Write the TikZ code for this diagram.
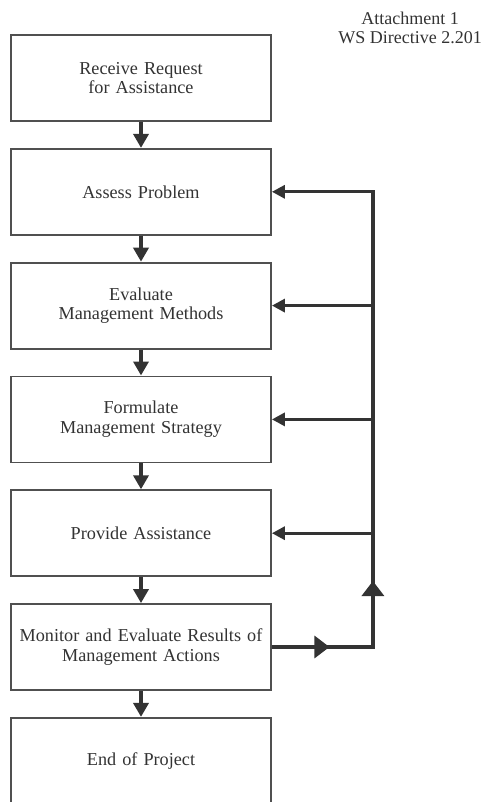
\documentclass[tikz,border=0pt]{standalone}
\usepackage{fontspec}
\setmainfont{Liberation Serif}
\usetikzlibrary{%
  arrows.meta,
  positioning,
  calc}
\definecolor{inkgray}{HTML}{333333}
\definecolor{boxgray}{HTML}{505050}
\tikzset{
  %% Process boxes
  stepbox/.style={
    rectangle, draw=boxgray, line width=0.9pt, fill=white,
    minimum width=130pt, minimum height=43pt,
    text width=125pt, align=center, inner sep=0pt,
    text=inkgray, font=\fontsize{9.1}{9.8}\selectfont},
  %% Header note
  headnote/.style={
    align=center, text=inkgray,
    font=\fontsize{9}{9.6}\selectfont},
  %% Arrows
  arrow/.style={-{Triangle[width=7.5pt,length=7pt]}, line width=1.9pt, inkgray},
  fbarrow/.style={-{Triangle[width=6.5pt,length=6.5pt]}, line width=1.6pt, inkgray},
  midarrow/.style={-{Triangle[width=11pt,length=7.5pt]}, line width=1.6pt, inkgray},
}
\begin{document}
\begin{tikzpicture}[node distance=13pt]
  \useasboundingbox (0,0) rectangle (244.5pt,-401pt);

  %% Header
  \node[headnote] (att) at (205pt,-14pt) {Attachment 1\\ WS Directive 2.201};

  %% Main flow
  \node[stepbox] (req) at (70.5pt,-39pt) {Receive Request\\ for Assistance};
  \node[stepbox, below=of req]    (assess) {Assess Problem};
  \node[stepbox, below=of assess] (eval)   {Evaluate\\ Management Methods};
  \node[stepbox, below=of eval]   (form)   {Formulate\\ Management Strategy};
  \node[stepbox, below=of form]   (prov)   {Provide Assistance};
  \node[stepbox, below=of prov]   (mon)
        {Monitor and Evaluate Results of\\ Management Actions};
  \node[stepbox, below=of mon]    (fin)    {End of Project};

  \draw[arrow] (req)    -- (assess);
  \draw[arrow] (assess) -- (eval);
  \draw[arrow] (eval)   -- (form);
  \draw[arrow] (form)   -- (prov);
  \draw[arrow] (prov)   -- (mon);
  \draw[arrow] (mon)    -- (fin);

  %% Feedback loop
  \coordinate (turn) at ($(mon.east)+(50.5pt,0)$);
  \draw[fbarrow] (mon.east) -- (turn) -- (turn |- assess.east) -- (assess.east);
  \foreach \n in {eval, form, prov}
    \draw[fbarrow] (turn |- \n.east) -- (\n.east);
  \draw[midarrow] (mon.east) -- ($(mon.east)!0.57!(turn)$);
  \draw[midarrow] (turn) -- ($(turn)!0.58!(turn |- prov.east)$);

\end{tikzpicture}
\end{document}
